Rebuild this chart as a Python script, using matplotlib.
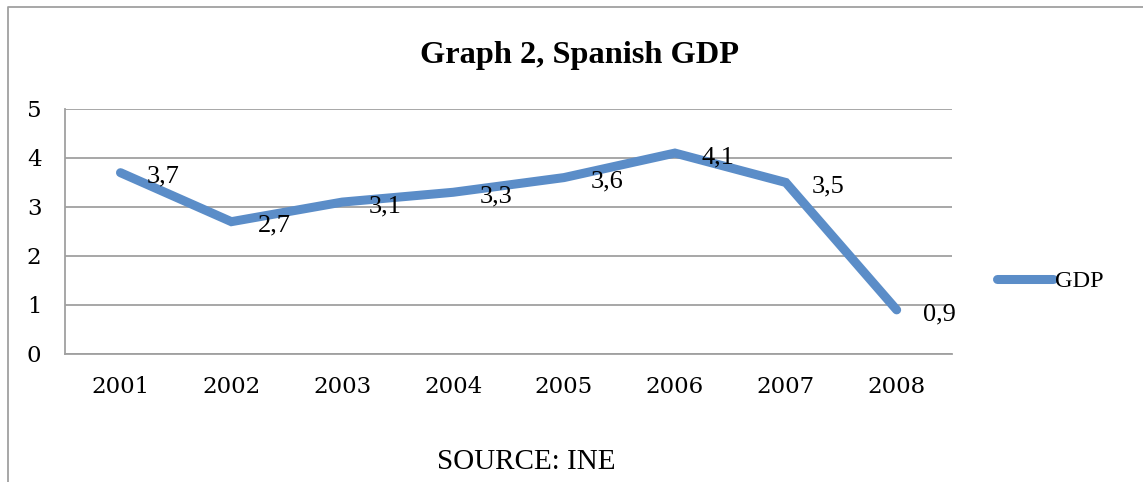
import matplotlib.pyplot as plt
from matplotlib.lines import Line2D

years = ["2001", "2002", "2003", "2004", "2005", "2006", "2007", "2008"]
gdp = [3.7, 2.7, 3.1, 3.3, 3.6, 4.1, 3.5, 0.9]
labels = ["3,7", "2,7", "3,1", "3,3", "3,6", "4,1", "3,5", "0,9"]

fig = plt.figure(figsize=(11.43, 4.82), dpi=100)
ax = fig.add_axes([0.0569, 0.2656, 0.7761, 0.5083])

x = list(range(len(years)))
ax.plot(x, gdp, color='#5b8dc8', linewidth=6.5, solid_capstyle='round',
        solid_joinstyle='miter', label='GDP', zorder=3)

for xi, yi, lab in zip(x, gdp, labels):
    ax.annotate(lab, (xi, yi), xytext=(19, -3), textcoords='offset points',
                ha='left', va='center', fontsize=19, family='Liberation Serif')

ax.set_xlim(-0.5, 7.5)
ax.set_ylim(0, 5)
ax.set_yticks([0, 1, 2, 3, 4, 5])
ax.set_xticks(x)
ax.set_xticklabels(years)
ax.grid(axis='y', color='#a0a0a0', linewidth=1.3)
ax.set_axisbelow(True)
for side in ['top', 'right']:
    ax.spines[side].set_visible(False)
ax.spines['left'].set_color('#a0a0a0')
ax.spines['bottom'].set_color('#a0a0a0')
ax.spines['left'].set_linewidth(1.3)
ax.spines['bottom'].set_linewidth(1.3)
ax.tick_params(length=0, colors='black')
ax.tick_params(axis='x', pad=16)
ax.tick_params(axis='y', pad=17)
for t in ax.get_xticklabels() + ax.get_yticklabels():
    t.set_family('DejaVu Serif')
    t.set_fontsize(16.5)

fig.text(0.507, 1 - 55 / 482, 'Graph 2, Spanish GDP', ha='center', va='center',
         fontsize=23.3, fontweight='bold', family='Liberation Serif')
fig.text(0.46, 1 - 462 / 482, 'SOURCE: INE', ha='center', va='center',
         fontsize=21, family='Liberation Serif')

fig.legend(loc='center left', bbox_to_anchor=(0.872, 1 - 281 / 482),
           frameon=False, borderpad=0, borderaxespad=0, handlelength=2.3,
           handletextpad=0.1, prop={'family': 'Liberation Serif', 'size': 17.5})

# outer chart frame (only left and top edges visible)
fig.add_artist(Line2D([0.007, 0.007, 1.0], [0.0, 0.9855, 0.9855],
                      transform=fig.transFigure, color='#a0a0a0', linewidth=1.3))

fig.savefig('out.png', dpi=100)
